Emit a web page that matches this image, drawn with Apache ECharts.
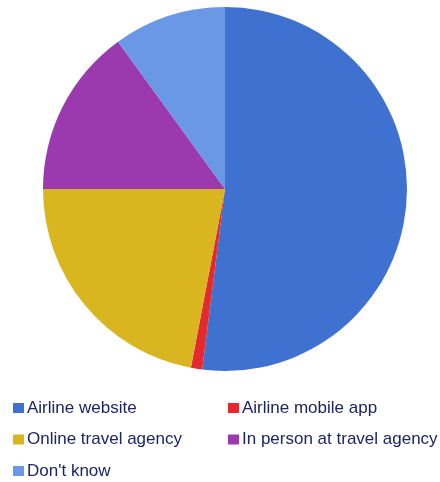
<!DOCTYPE html>
<html><head><meta charset="utf-8">
<script src="https://cdn.jsdelivr.net/npm/echarts@6/dist/echarts.min.js"></script>
<style>html,body{margin:0;padding:0;background:#fff}#c{width:440px;height:482px}</style>
</head><body><div id="c"></div>
<script>
const categories = ["Airline website", "Airline mobile app", "Online travel agency", "In person at travel agency", "Don't know"];
const values = [52, 1, 22, 15, 10];
const colors = ["#3f72d0", "#e42a2e", "#d9b620", "#9a3aae", "#6a98e6"];
const leftCol = ["Airline website", "Online travel agency", "Don't know"];
const rightCol = ["Airline mobile app", "In person at travel agency"];

const chart = echarts.init(document.getElementById('c'), null, {renderer: 'canvas'});
const legendBase = {
  orient: 'vertical', icon: 'rect', itemWidth: 11, itemHeight: 10, itemGap: 11.5,
  padding: 0,
  textStyle: {fontFamily: 'Liberation Sans, Arial, sans-serif', fontSize: 17, color: '#1c2566', lineHeight: 20, padding: [0,0,0,-2]},
  selectedMode: false
};
chart.setOption({
  animation: false,
  color: colors,
  legend: [
    Object.assign({}, legendBase, {data: leftCol, left: 13, top: 398}),
    Object.assign({}, legendBase, {data: rightCol, left: 228, top: 398})
  ],
  series: [{
    type: 'pie',
    center: [225, 189],
    radius: [0, 182],
    startAngle: 90,
    clockwise: true,
    label: {show: false},
    labelLine: {show: false},
    itemStyle: {borderWidth: 0},
    emphasis: {disabled: true},
    data: categories.map((c, i) => ({name: c, value: values[i]}))
  }]
});
</script></body></html>
